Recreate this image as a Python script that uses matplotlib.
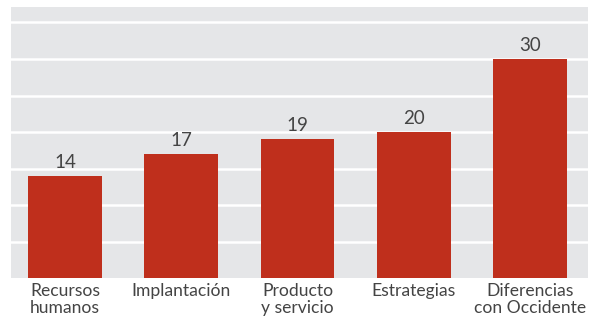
import matplotlib
matplotlib.use("Agg")
import matplotlib.pyplot as plt

categorias = ["Recursos\nhumanos", "Implantación", "Producto\ny servicio", "Estrategias", "Diferencias\ncon Occidente"]
valores = [14, 17, 19, 20, 30]

plt.rcParams['font.family'] = ['Lato', 'DejaVu Sans']

fig = plt.figure(figsize=(5.93, 3.21), dpi=100)
ax = fig.add_axes([0.0186, 0.1324, 0.973, 0.8456])
ax.set_facecolor("#e5e6e8")

x = list(range(len(valores)))
bars = ax.bar(x, valores, width=0.636, color="#bf2f1c", zorder=3)
for xi, v in zip(x, valores):
    ax.text(xi, v + 0.75, str(v), ha="center", va="bottom", fontsize=13.5,
            color="#444444")

ax.set_ylim(0, 37.1)
ax.set_xlim(-0.465, 4.5)
ax.set_yticks(range(5, 40, 5))
ax.yaxis.grid(True, color="white", linewidth=1.8, zorder=1)
ax.set_yticklabels([])
ax.tick_params(axis="y", length=0)
ax.tick_params(axis="x", length=0, pad=3, labelsize=12.6, labelcolor="#444444")
ax.set_xticks(x)
ax.set_xticklabels(categorias, linespacing=1.08)
for s in ax.spines.values():
    s.set_visible(False)

fig.savefig("out.png", dpi=100, facecolor="white")
